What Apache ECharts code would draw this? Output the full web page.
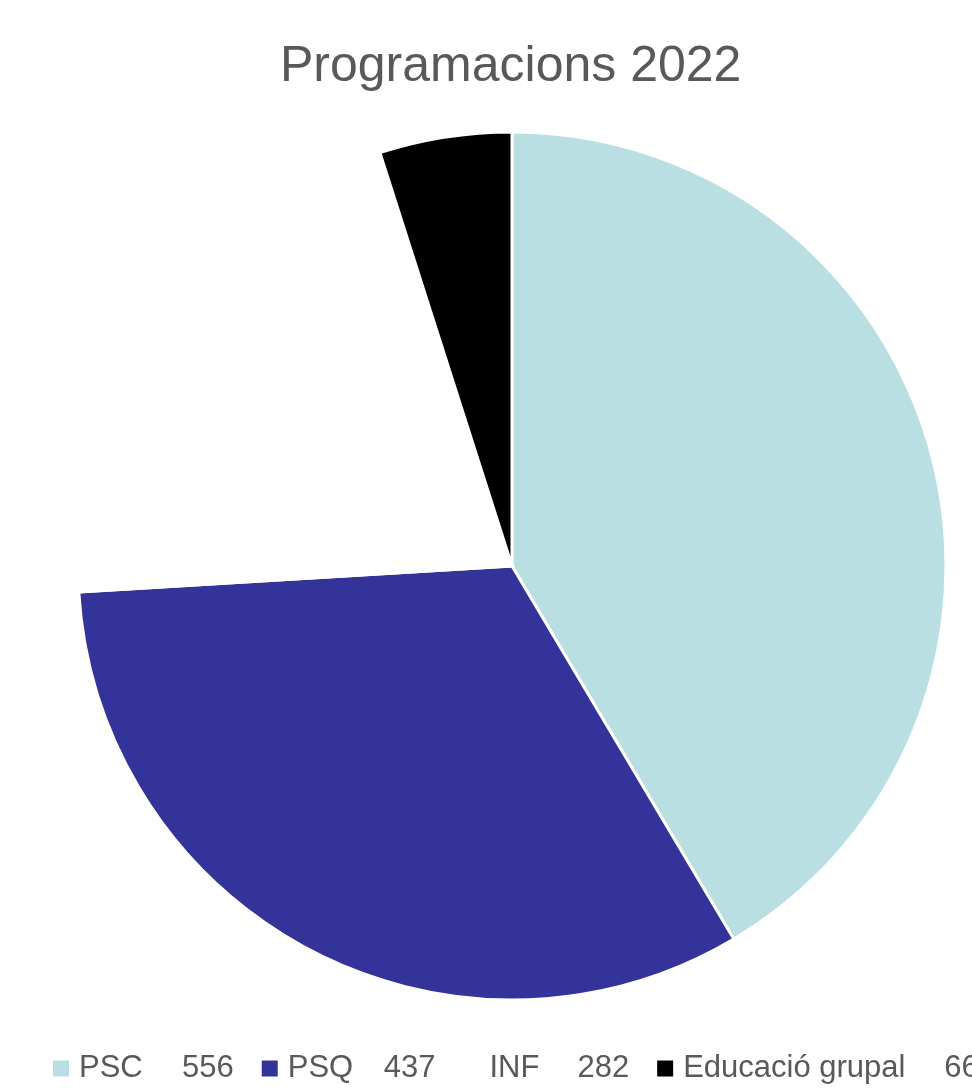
<!DOCTYPE html>
<html>
<head>
<meta charset="utf-8">
<script src="https://cdn.jsdelivr.net/npm/echarts@6/dist/echarts.min.js"></script>
<style>
  html, body { margin: 0; padding: 0; background: #fff; }
  #chart { width: 972px; height: 1091px; }
</style>
</head>
<body>
<div id="chart"></div>
<script>
// Data
var categories = ['PSC', 'PSQ', 'INF', 'Educació grupal'];
var values = [556, 437, 282, 66];
var colors = ['#b9dfe3', '#343399', '#ffffff', '#000000'];

// Legend tab widths (name column) per item
var nameWidths = [103, 96, 88, 261];

var chart = echarts.init(document.getElementById('chart'), null, { renderer: 'canvas' });

var rich = {};
categories.forEach(function(c, i) {
    rich['n' + i] = { width: nameWidths[i], padding: [0, 0, 0, 4], fontSize: 31, color: '#595959', fontFamily: 'Liberation Sans' };
});
rich.v = { fontSize: 31, color: '#595959', fontFamily: 'Liberation Sans' };

var options = {
    animation: false,
    title: {
        text: 'Programacions 2022',
        left: 275,
        top: 37,
        textStyle: {
            fontFamily: 'Liberation Sans',
            fontSize: 50,
            fontWeight: 'normal',
            color: '#595959'
        }
    },
    legend: {
        left: 46,
        top: 1048,
        width: 1400,
        orient: 'horizontal',
        icon: 'rect',
        itemWidth: 18,
        itemHeight: 18,
        itemGap: 26,
        data: categories,
        formatter: function(name) {
            var i = categories.indexOf(name);
            return '{n' + i + '|' + name + '}{v|' + values[i] + '}';
        },
        textStyle: {
            fontFamily: 'Liberation Sans',
            fontSize: 31,
            color: '#595959',
            rich: rich
        }
    },
    series: [
        {
            type: 'pie',
            center: [512, 566],
            radius: 434,
            startAngle: 90,
            clockwise: true,
            silent: true,
            label: { show: false },
            labelLine: { show: false },
            itemStyle: {
                borderColor: '#ffffff',
                borderWidth: 3
            },
            data: categories.map(function(c, i) {
                return { name: c, value: values[i], itemStyle: { color: colors[i] } };
            })
        }
    ]
};

chart.setOption(options);
</script>
</body>
</html>
